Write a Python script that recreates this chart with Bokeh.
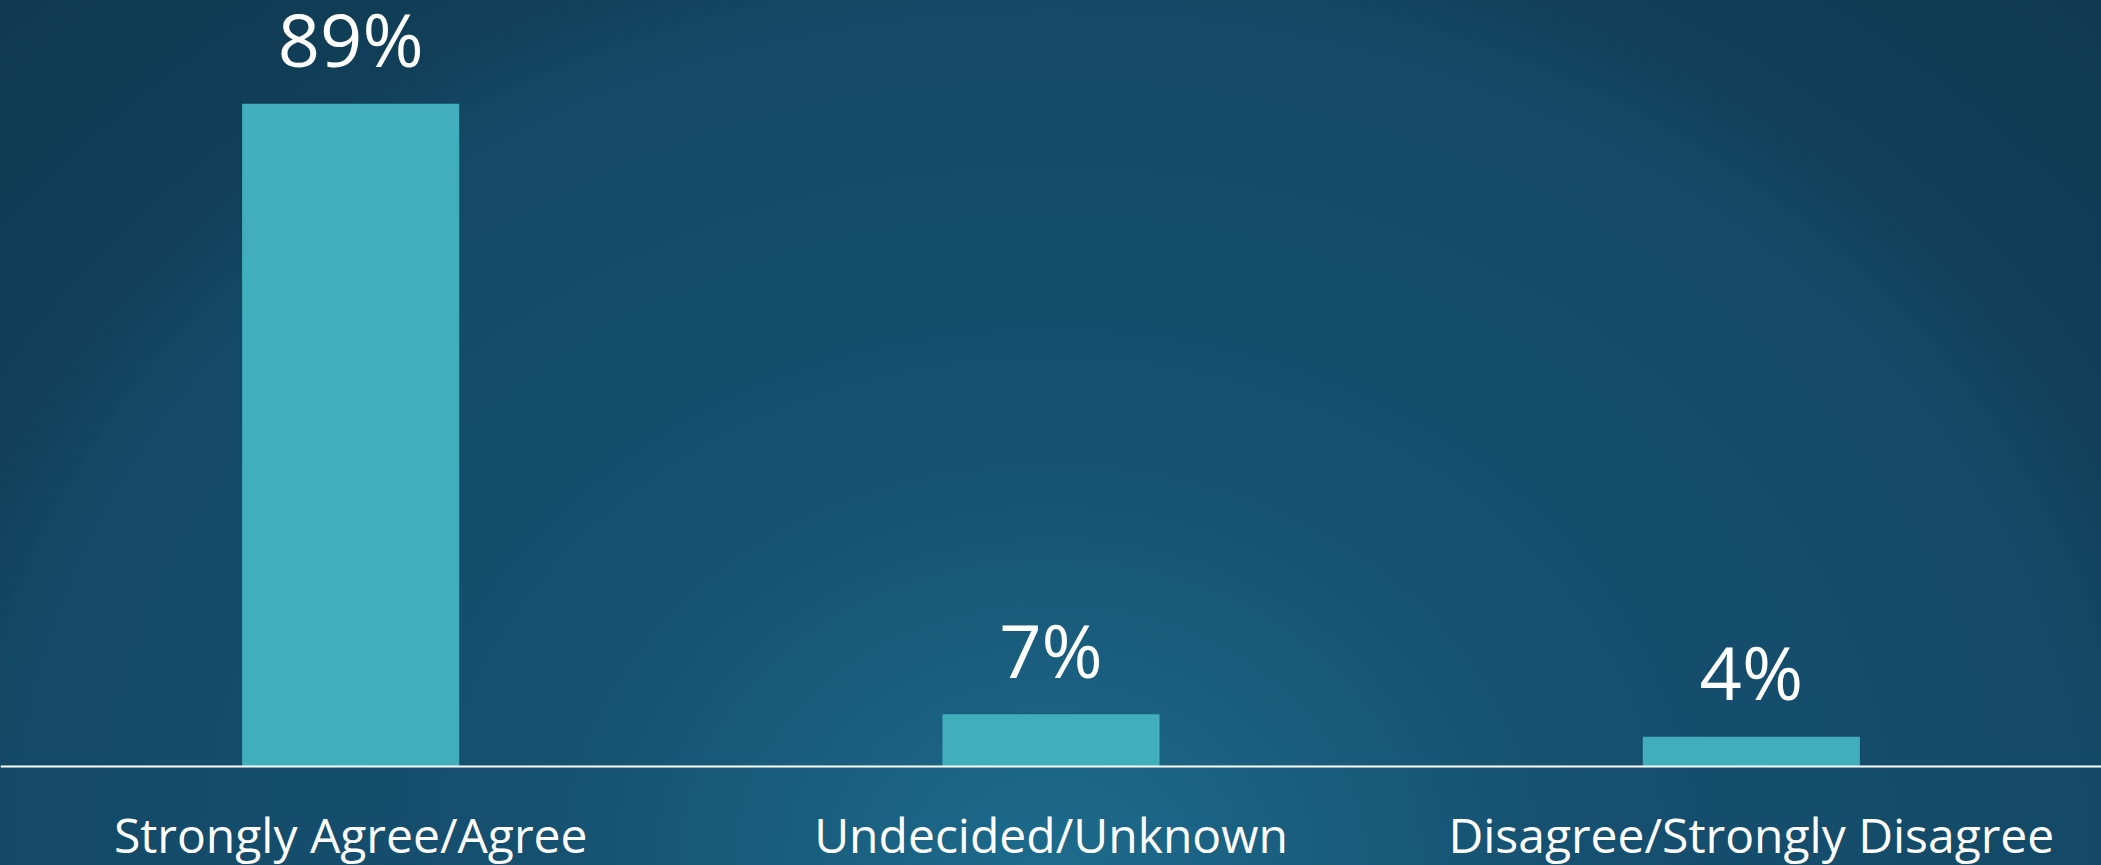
from bokeh.plotting import figure
from bokeh.models import FactorRange, Range1d, Span, ColumnDataSource
from bokeh.core.properties import value
from bokeh.embed import file_html
from bokeh.resources import INLINE

categories = ["Strongly Agree/Agree", "Undecided/Unknown", "Disagree/Strongly Disagree"]
percentages = [89, 7, 4]
value_labels = ["89%", "7%", "4%"]

FONT = "Open Sans"

src = ColumnDataSource(dict(cat=categories, val=percentages, lab=value_labels,
                            zero=[0] * len(categories)))

p = figure(
    width=2101, height=865,
    x_range=FactorRange(*categories, range_padding=0),
    y_range=Range1d(-13.30, 102.87),
    output_backend="svg", toolbar_location=None,
    x_axis_location=None, y_axis_location=None,
    min_border=0,
)
p.min_border_left = 0
p.min_border_right = 0
p.min_border_top = 0
p.min_border_bottom = 0
p.outline_line_color = None
p.xgrid.visible = False
p.ygrid.visible = False
p.background_fill_alpha = 0
p.border_fill_alpha = 0
p.styles = {
    "background": "radial-gradient(ellipse 55% 110% at 50% 100%, #1d6b8c 0%, #165070 45%, #134966 91%, #113f58 101%, #0f3a50 130%)"
}

p.vbar(x="cat", top="val", bottom=0, width=0.31, source=src,
       fill_color="#40aebd", line_color=None)

p.add_layout(Span(location=0, dimension="width", line_color="white", line_width=2))

p.text(x="cat", y="val", text="lab", source=src, y_offset=-65,
       text_align="center", text_baseline="alphabetic",
       text_font=value(FONT), text_font_size="74px", text_color="white")

p.text(x="cat", y="zero", text="cat", source=src, y_offset=68,
       text_align="center", text_baseline="alphabetic",
       text_font=value(FONT), text_font_size="48px", text_color="white")

open("out.html", "w").write(file_html(p, INLINE))
